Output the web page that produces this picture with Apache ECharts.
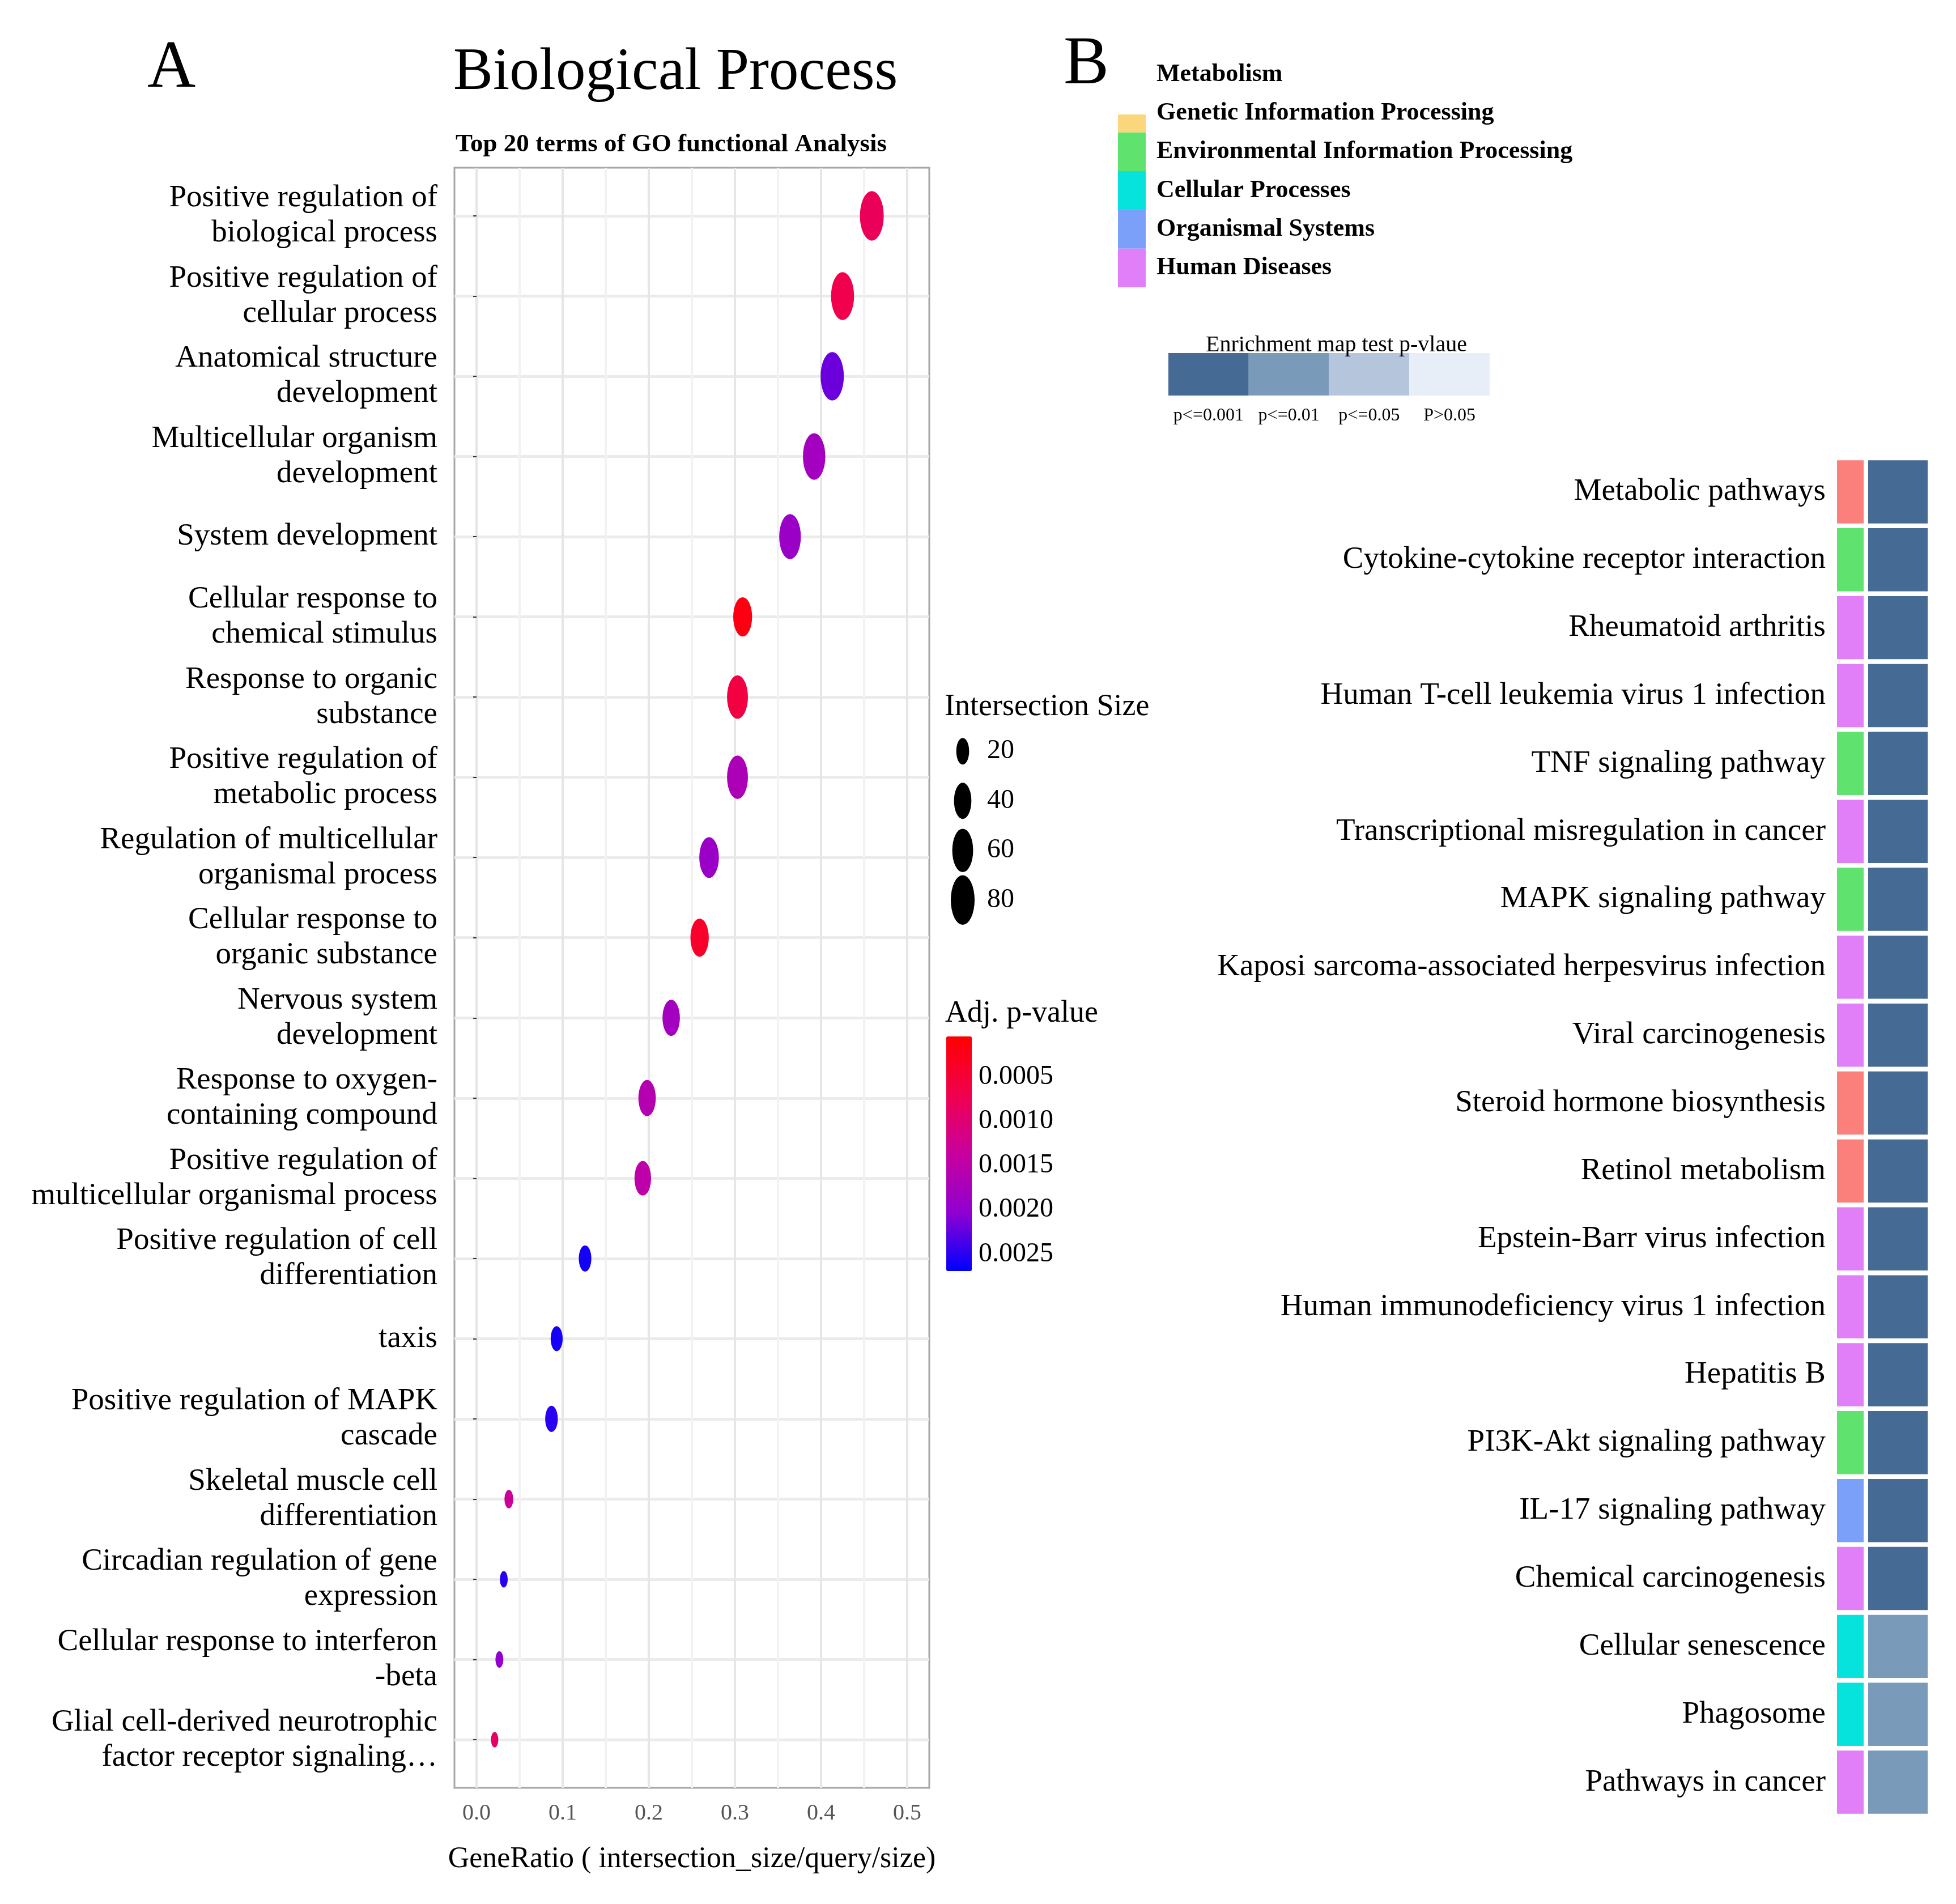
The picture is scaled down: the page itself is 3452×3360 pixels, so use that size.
<!DOCTYPE html>
<html><head><meta charset="utf-8">
<script src="https://cdn.jsdelivr.net/npm/echarts@6/dist/echarts.min.js"></script>
<style>html,body{margin:0;padding:0;background:#fff}#c{width:3452px;height:3360px}</style>
</head><body><div id="c"></div><script>
// ---------- Panel A data ----------
const goTerms = [
  'Positive regulation of\nbiological process',
  'Positive regulation of\ncellular process',
  'Anatomical structure\ndevelopment',
  'Multicellular organism\ndevelopment',
  'System development',
  'Cellular response to\nchemical stimulus',
  'Response to organic\nsubstance',
  'Positive regulation of\nmetabolic process',
  'Regulation of multicellular\norganismal process',
  'Cellular response to\norganic substance',
  'Nervous system\ndevelopment',
  'Response to oxygen-\ncontaining compound',
  'Positive regulation of\nmulticellular organismal process',
  'Positive regulation of cell\ndifferentiation',
  'taxis',
  'Positive regulation of MAPK\ncascade',
  'Skeletal muscle cell\ndifferentiation',
  'Circadian regulation of gene\nexpression',
  'Cellular response to interferon\n-beta',
  'Glial cell-derived neurotrophic\nfactor receptor signaling\u2026'
];
const geneRatio = [0.459, 0.425, 0.413, 0.392, 0.364, 0.309, 0.303, 0.303, 0.270, 0.259,
                   0.226, 0.198, 0.193, 0.126, 0.093, 0.087, 0.0375, 0.0316, 0.0265, 0.021];
const intersectionSize = [80, 74, 76, 70, 65, 48, 60, 60, 52, 45,
                          40, 40, 36, 19, 17, 19, 8, 6, 6, 5];
const adjPValue = [0.0008, 0.0007, 0.0022, 0.0018, 0.0019, 0.0002, 0.0006, 0.0017, 0.0019, 0.0004,
                   0.0018, 0.0016, 0.0015, 0.0026, 0.0026, 0.0025, 0.0013, 0.0025, 0.0020, 0.0009];
const xTickValues = [0, 0.1, 0.2, 0.3, 0.4, 0.5];
const xGridValues = [0, 0.05, 0.1, 0.15, 0.2, 0.25, 0.3, 0.35, 0.4, 0.45, 0.5];
const sizeLegendValues = [20, 40, 60, 80];
const pTickValues = [0.0005, 0.0010, 0.0015, 0.0020, 0.0025];
const pColorRange = [0.000046, 0.002692];

// ---------- Panel B data ----------
const keggClasses = ['Metabolism', 'Genetic Information Processing', 'Environmental Information Processing',
                     'Cellular Processes', 'Organismal Systems', 'Human Diseases'];
const keggClassColors = ['#fb7f7b', '#fcd67c', '#5fe26e', '#05e3dc', '#7aa0fa', '#e07ff7'];
const pLevels = ['p<=0.001', 'p<=0.01', 'p<=0.05', 'P>0.05'];
const pLevelColors = ['#456a94', '#7a9aba', '#b5c6dc', '#e8eef8'];
const pathways = [
  'Metabolic pathways', 'Cytokine-cytokine receptor interaction', 'Rheumatoid arthritis',
  'Human T-cell leukemia virus 1 infection', 'TNF signaling pathway', 'Transcriptional misregulation in cancer',
  'MAPK signaling pathway', 'Kaposi sarcoma-associated herpesvirus infection', 'Viral carcinogenesis',
  'Steroid hormone biosynthesis', 'Retinol metabolism', 'Epstein-Barr virus infection',
  'Human immunodeficiency virus 1 infection', 'Hepatitis B', 'PI3K-Akt signaling pathway',
  'IL-17 signaling pathway', 'Chemical carcinogenesis', 'Cellular senescence', 'Phagosome', 'Pathways in cancer'
];
const pathwayClass = [0, 2, 5, 5, 2, 5, 2, 5, 5, 0, 0, 5, 5, 5, 2, 4, 5, 3, 3, 5];
const pathwayPLevel = [0, 0, 0, 0, 0, 0, 0, 0, 0, 0, 0, 0, 0, 0, 0, 0, 0, 1, 1, 1];

// ---------- helpers ----------
const FONT = 'Liberation Serif';
function sizeToSymbol(n) { const h = 7 + 9.0 * Math.sqrt(n); return [0.48 * h, h]; }
const termIdx = goTerms.map((t, i) => i);
function classSwatch(i) {
  if (i === 0) return 'rgba(255,255,255,0)';
  if (i === 1) return new echarts.graphic.LinearGradient(0, 0, 0, 1, [
    {offset: 0, color: 'rgba(255,255,255,0)'}, {offset: 0.53, color: 'rgba(255,255,255,0)'},
    {offset: 0.53, color: keggClassColors[1]}, {offset: 1, color: keggClassColors[1]}]);
  return keggClassColors[i];
}

const chart = echarts.init(document.getElementById('c'), null, {renderer: 'canvas'});
const hidden = {show: false};
const option = {
  animation: false,
  backgroundColor: '#fff',
  textStyle: {fontFamily: FONT, color: '#000'},
  title: [
    {text: 'A', left: 255, top: 58, textStyle: {fontFamily: FONT, fontSize: 118, fontWeight: 'normal', color: '#000'}},
    {text: 'Biological Process', left: 795, top: 72, textStyle: {fontFamily: FONT, fontSize: 105, fontWeight: 'normal', color: '#000'}},
    {text: 'Top 20 terms of GO functional Analysis', left: 799, top: 228, textStyle: {fontFamily: FONT, fontSize: 45, fontWeight: 'bold', color: '#000'}},
    {text: 'B', left: 1872, top: 50, textStyle: {fontFamily: FONT, fontSize: 120, fontWeight: 'normal', color: '#000'}},
    {text: 'Intersection Size', left: 1662, top: 1216, textStyle: {fontFamily: FONT, fontSize: 54, fontWeight: 'normal', color: '#000'}},
    {text: 'Adj. p-value', left: 1663, top: 1757, textStyle: {fontFamily: FONT, fontSize: 54, fontWeight: 'normal', color: '#000'}},
    {text: 'Enrichment map test p-vlaue', left: 2123, top: 584, textStyle: {fontFamily: FONT, fontSize: 40, fontWeight: 'normal', color: '#000'}}
  ],
  grid: [
    {left: 802, top: 296, width: 838, height: 2859, show: true, borderColor: '#a6a6a6', borderWidth: 3, backgroundColor: 'rgba(0,0,0,0)'},
    {left: 1670, top: 1829, width: 45, height: 414},
    {left: 1679, top: 1282, width: 40, height: 350},
    {left: 1973, top: 97, width: 49, height: 410},
    {left: 2062, top: 623, width: 567, height: 75},
    {left: 3242, top: 808, width: 47, height: 2397},
    {left: 3297, top: 808, width: 105, height: 2397}
  ],
  xAxis: [
    {gridIndex: 0, type: 'value', min: -0.0257, max: 0.5257,
     axisLine: {show: false},
     axisTick: {show: false, customValues: xGridValues},
     axisLabel: {customValues: xTickValues, formatter: v => v.toFixed(1), fontSize: 40, color: '#555', margin: 25, fontFamily: FONT},
     splitLine: {show: true, lineStyle: {color: ['#e6e6e6', '#f2f2f2'], width: 4}},
     name: 'GeneRatio ( intersection_size/query/size)', nameLocation: 'middle', nameGap: 100,
     nameTextStyle: {fontFamily: FONT, fontSize: 52, color: '#000'}},
    {gridIndex: 1, type: 'value', min: 0, max: 1, show: false},
    {gridIndex: 2, type: 'value', min: -1, max: 1, show: false},
    {gridIndex: 3, type: 'value', min: 0, max: 1, show: false},
    {gridIndex: 4, type: 'category', data: pLevels,
     axisLine: hidden, axisTick: hidden, splitLine: hidden,
     axisLabel: {interval: 0, fontSize: 32, margin: 20, color: '#000', fontFamily: FONT}},
    {gridIndex: 5, type: 'value', min: 0, max: 1, show: false},
    {gridIndex: 6, type: 'value', min: 0, max: 1, show: false}
  ],
  yAxis: [
    {gridIndex: 0, type: 'value', min: -0.6, max: 19.6, inverse: true,
     axisLine: {show: false},
     axisTick: {show: true, customValues: termIdx, length: 6, lineStyle: {color: '#333', width: 2}},
     axisLabel: {customValues: termIdx, formatter: v => goTerms[Math.round(v)], fontSize: 55, lineHeight: 62,
                 color: '#000', margin: 30, fontFamily: FONT},
     splitLine: {show: true, lineStyle: {color: '#ebebeb', width: 5}}},
    {gridIndex: 1, type: 'value', min: pColorRange[0], max: pColorRange[1], inverse: true, position: 'right',
     axisLine: hidden, splitLine: hidden,
     axisTick: {show: true, inside: true, customValues: pTickValues, length: 9, lineStyle: {color: '#fff', width: 2}},
     axisLabel: {customValues: pTickValues, formatter: v => v.toFixed(4), fontSize: 48, margin: 12, color: '#000', fontFamily: FONT}},
    {gridIndex: 2, type: 'category', data: sizeLegendValues.map(String), inverse: true, position: 'right',
     axisLine: hidden, axisTick: hidden, splitLine: hidden,
     axisLabel: {interval: 0, fontSize: 48, margin: 23, color: '#000', fontFamily: FONT}},
    {gridIndex: 3, type: 'category', data: keggClasses, inverse: true, position: 'right',
     axisLine: hidden, axisTick: hidden, splitLine: hidden,
     axisLabel: {interval: 0, fontSize: 44, fontWeight: 'bold', margin: 19, color: '#000', fontFamily: FONT}},
    {gridIndex: 4, type: 'value', min: 0, max: 1, show: false},
    {gridIndex: 5, type: 'category', data: pathways, inverse: true,
     axisLine: hidden, axisTick: hidden, splitLine: hidden,
     axisLabel: {interval: 0, fontSize: 55, margin: 20, color: '#000', fontFamily: FONT}},
    {gridIndex: 6, type: 'category', data: pathways, inverse: true, show: false}
  ],
  visualMap: [{
    type: 'continuous', seriesIndex: 0, dimension: 2,
    min: pColorRange[0], max: pColorRange[1], inverse: true, orient: 'vertical',
    left: 1670, top: 1829, itemWidth: 45, itemHeight: 414, padding: 0,
    calculable: false, hoverLink: false,
    inRange: {color: ['#ff0000', '#f0004e', '#c8009e', '#9000d0', '#0000ff']}
  }],
  series: [
    {type: 'scatter', xAxisIndex: 0, yAxisIndex: 0, z: 5,
     data: goTerms.map((t, i) => [geneRatio[i], i, adjPValue[i], intersectionSize[i]]),
     symbol: 'circle', symbolSize: v => sizeToSymbol(v[3]), itemStyle: {opacity: 1}},
    {type: 'scatter', xAxisIndex: 2, yAxisIndex: 2,
     data: sizeLegendValues.map(v => [0, String(v), v]),
     symbol: 'circle', symbolSize: v => sizeToSymbol(v[2]), itemStyle: {color: '#000', opacity: 1}},
    {type: 'bar', xAxisIndex: 3, yAxisIndex: 3, barCategoryGap: '0%',
     data: keggClasses.map((c, i) => ({value: 1, itemStyle: {color: classSwatch(i)}}))},
    {type: 'bar', xAxisIndex: 4, yAxisIndex: 4, barCategoryGap: '0%',
     data: pLevels.map((p, i) => ({value: 1, itemStyle: {color: pLevelColors[i]}}))},
    {type: 'bar', xAxisIndex: 5, yAxisIndex: 5, barCategoryGap: '7%',
     data: pathways.map((p, i) => ({value: 1, itemStyle: {color: keggClassColors[pathwayClass[i]]}}))},
    {type: 'bar', xAxisIndex: 6, yAxisIndex: 6, barCategoryGap: '7%',
     data: pathways.map((p, i) => ({value: 1, itemStyle: {color: pLevelColors[pathwayPLevel[i]]}}))}
  ]
};
chart.setOption(option);
</script></body></html>
